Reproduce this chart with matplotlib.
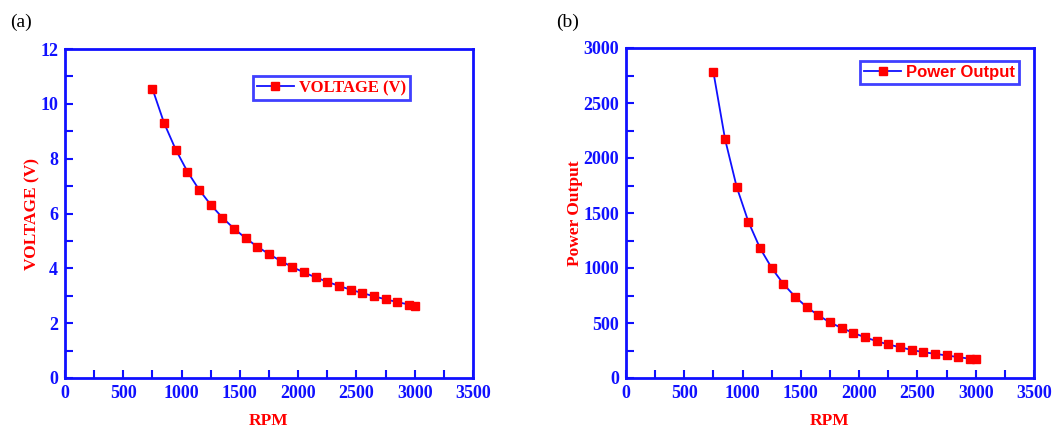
import matplotlib
matplotlib.use("Agg")
import matplotlib.pyplot as plt
from matplotlib.ticker import MultipleLocator

rpm = [750, 850, 950, 1050, 1150, 1250, 1350, 1450, 1550, 1650, 1750, 1850,
       1950, 2050, 2150, 2250, 2350, 2450, 2550, 2650, 2750, 2850, 2950, 3000]
voltage = [10.55, 9.30, 8.33, 7.53, 6.87, 6.32, 5.85, 5.45, 5.10, 4.79, 4.52, 4.27,
           4.05, 3.85, 3.67, 3.51, 3.36, 3.22, 3.10, 2.98, 2.87, 2.77, 2.68, 2.63]
power = [2780, 2170, 1735, 1420, 1180, 1000, 855, 740, 645, 570, 505, 455,
         410, 370, 335, 305, 280, 255, 235, 220, 205, 190, 175, 170]

W, H = 1053, 430
fig = plt.figure(figsize=(W / 100, H / 100), dpi=100)

BLUE = "#1010ff"
RED = "#ff0000"
serif = "Liberation Serif"

def make_axes(rect_px, x, y, ylim, ymaj, ymin, ylabel, legend_label, legend_font, legend_loc_px):
    l, t, r, b = rect_px
    ax = fig.add_axes([l / W, 1 - b / H, (r - l) / W, (b - t) / H])
    ax.plot(x, y, color=BLUE, lw=1.3, marker="s", ms=6, mfc=RED, mec=RED,
            label=legend_label)
    ax.set_xlim(0, 3500)
    ax.set_ylim(*ylim)
    ax.xaxis.set_major_locator(MultipleLocator(500))
    ax.xaxis.set_minor_locator(MultipleLocator(250))
    ax.yaxis.set_major_locator(MultipleLocator(ymaj))
    ax.yaxis.set_minor_locator(MultipleLocator(ymin))
    ax.tick_params(which="both", direction="in", colors=BLUE, width=1.5,
                   top=False, right=False)
    ax.tick_params(which="major", length=6, pad=5)
    ax.tick_params(which="minor", length=6)
    for s in ax.spines.values():
        s.set_color(BLUE)
        s.set_linewidth(2)
    for lab in ax.get_xticklabels() + ax.get_yticklabels():
        lab.set_fontfamily(serif)
        lab.set_fontweight("bold")
        lab.set_fontsize(13)
        lab.set_color(BLUE)
    ax.set_xlabel("RPM", fontfamily=serif, fontweight="bold", fontsize=12.5,
                  color=RED, labelpad=8)
    ax.set_ylabel(ylabel, fontfamily=serif, fontweight="bold", fontsize=12.5,
                  color=RED, labelpad=0)
    lx, ly = legend_loc_px
    leg = ax.legend(loc="upper left",
                    bbox_to_anchor=((lx - l) / (r - l), (b - ly) / (b - t)),
                    frameon=True, fancybox=False, borderpad=0.25,
                    handlelength=2.2, handletextpad=0.3, borderaxespad=0,
                    prop={"family": legend_font, "weight": "bold", "size": 12})
    leg.get_frame().set_edgecolor(BLUE)
    leg.get_frame().set_linewidth(2)
    for txt in leg.get_texts():
        txt.set_color(RED)
    return ax

make_axes((65, 49, 473, 378), rpm, voltage, (0, 12), 2, 1, "VOLTAGE (V)",
          "VOLTAGE (V)", serif, (253, 76))
make_axes((626, 48, 1034, 378), rpm, power, (0, 3000), 500, 250, "Power Output",
          "Power Output", "Liberation Sans", (860, 61))

fig.text(10 / W, 1 - 22 / H, "(a)", fontfamily=serif, fontsize=14, va="center")
fig.text(556 / W, 1 - 22 / H, "(b)", fontfamily=serif, fontsize=14, va="center")

fig.savefig("out.png", dpi=100)
